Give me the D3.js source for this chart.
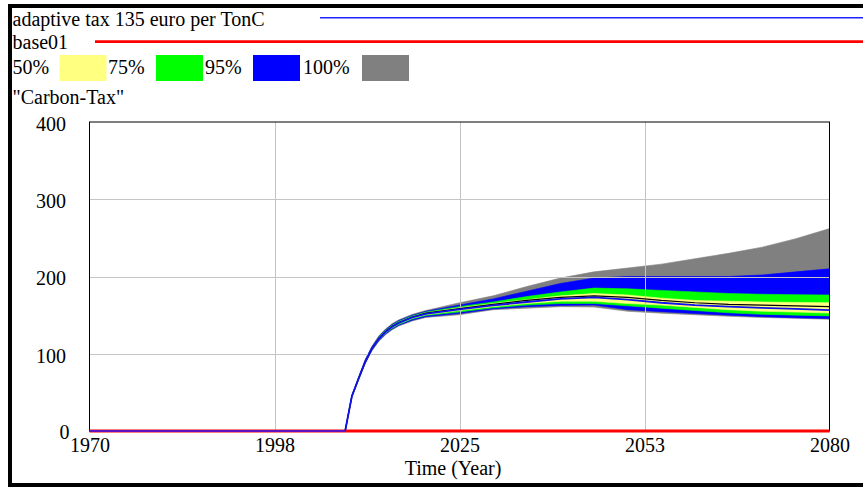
<!DOCTYPE html>
<html><head><meta charset="utf-8">
<script src="https://cdn.jsdelivr.net/npm/d3@7"></script>
<style>
html,body{margin:0;padding:0;background:#fff;}
</style></head><body>
<svg id="chart" width="863" height="487" font-family="'Liberation Serif','Times New Roman',serif" font-size="20"></svg>
<script>
// ---- data ----
const years      = [1970,2008,2009,2010,2011,2012,2013,2014,2015,2016,2018,2020,2025,2030,2035,2040,2045,2050,2055,2060,2065,2070,2075,2080];
const grayTop    = [0,0,46,70,93,110,123,132,139,144,151,156,166,175,187,198,206,211,216,223,230,238,249,262];
const blueTop    = [0,0,46,69,92,109,122,131,138,143,150,155,163,171,181,191,198,200,200,200,200,202,206,210];
const greenTop   = [0,0,45.5,69,91,108,121,130,137,142,149,154,161,167,174,180,185,184,182,180,178,177,176.5,176];
const yellowTop  = [0,0,45,68,90.5,107.5,120,129,136,141,148,153,159.5,165,170,175,178,176,172,169,168,167,166.5,166];
const blackLine  = [0,0,45,68,90,107,119.5,128.5,135.5,140.5,147.5,152.5,158.5,164,169,173,175,173,169,166,164,163,162,161];
const adaptive   = [0,0,45,68,90,107,119,128,135,140,147,151.5,157.5,162.5,167,171,173,170,166,163,161,159.5,158,156.5];
const yellowBot  = [0,0,44.5,67.5,89.5,106.5,118.5,127,134,139,146,150.5,156,161,165,168,168,165,163,160,157,155,154,152.7];
const greenBot   = [0,0,44,67,89,106,118,126.5,133,138,145,149.5,154,159.5,163,165,165,162,159,156,153,151,150,149];
const blueBot    = [0,0,44,66.5,88,105,117,125.5,132,137,143.5,148,152,158,161,162.5,163,157,154.5,152,150,148,146.5,145.5];
const grayBot    = [0,0,44,66,87.5,104,116,124.5,131,136,142.5,147,150.5,157,159,161,160.5,155,152.5,150.5,148.5,147,146,144.6];
const base01Years  = [1970,2080];
const base01Values = [0,0];
const xTicks      = [1970,1997.5,2025,2052.5,2080];
const xTickLabels = ["1970","1998","2025","2053","2080"];
const yTicks      = [0,100,200,300,400];
const legendRuns  = ["adaptive tax 135 euro per TonC","base01"];
const bandLabels  = ["50%","75%","95%","100%"];
const bandColors  = ["#ffff80","#00ff00","#0000ff","#808080"];
const varName     = "\"Carbon-Tax\"";
const xTitle      = "Time (Year)";

// ---- layout ----
const svg = d3.select("#chart");
const FF = "'Liberation Serif','Times New Roman',serif";
const L = 89.5, R = 829.5, T = 122, B = 431;
const x = d3.scaleLinear().domain([1970,2080]).range([L,R]);
const y = d3.scaleLinear().domain([0,400]).range([B,T]);

// outer frame
svg.append("rect").attr("x",8).attr("y",4).attr("width",4).attr("height",483).attr("fill","#000");
svg.append("rect").attr("x",8).attr("y",4).attr("width",855).attr("height",4).attr("fill","#000");
svg.append("rect").attr("x",8).attr("y",483).attr("width",855).attr("height",4).attr("fill","#000");

// legend
svg.append("text").attr("x",12.5).attr("y",26).text(legendRuns[0]);
svg.append("line").attr("x1",320).attr("x2",863).attr("y1",17.7).attr("y2",17.7).attr("stroke","#2020ff").attr("stroke-width",1.6);
svg.append("text").attr("x",12.5).attr("y",49).text(legendRuns[1]);
svg.append("line").attr("x1",95).attr("x2",863).attr("y1",41.7).attr("y2",41.7).attr("stroke","#ff0000").attr("stroke-width",2.8);
const labX = [12.5,108,205,303], swX = [59.5,156,253,362];
bandLabels.forEach((t,i)=>{
  svg.append("text").attr("x",labX[i]).attr("y",74).text(t);
  svg.append("rect").attr("x",swX[i]).attr("y",55).attr("width",47).attr("height",26).attr("fill",bandColors[i]);
});
svg.append("text").attr("x",12.5).attr("y",104).text(varName);

// bands
const idx = d3.range(years.length);
function band(top, bot, color){
  const a = d3.area().x(i=>x(years[i])).y0(i=>y(bot[i])).y1(i=>y(top[i]));
  svg.append("path").datum(idx).attr("d",a).attr("fill",color).attr("stroke",color).attr("stroke-width",0.6);
}
band(grayTop, grayBot, bandColors[3]);
band(blueTop, blueBot, bandColors[2]);
band(greenTop, greenBot, bandColors[1]);
band(yellowTop, yellowBot, bandColors[0]);

// grid
const g = svg.append("g");
xTicks.slice(1,-1).forEach(v=>g.append("line").attr("x1",Math.round(x(v))+0.5).attr("x2",Math.round(x(v))+0.5).attr("y1",T).attr("y2",B).attr("stroke","#c4c4c4").attr("stroke-width",1));
yTicks.slice(1,-1).forEach(v=>g.append("line").attr("x1",L).attr("x2",R).attr("y1",Math.round(y(v))+0.5).attr("y2",Math.round(y(v))+0.5).attr("stroke","#c4c4c4").attr("stroke-width",1));

// plot frame
svg.append("rect").attr("x",L).attr("y",T).attr("width",R-L).attr("height",B-T).attr("fill","none").attr("stroke","#000").attr("stroke-width",1);

// lines
const ln = arr => d3.line().x(i=>x(years[i])).y(i=>y(arr[i]));
svg.append("path").datum(idx).attr("d",ln(blackLine)).attr("fill","none").attr("stroke","#000").attr("stroke-width",1.2);
svg.append("path").datum([0,1]).attr("d",d3.line().x(i=>x(base01Years[i])).y(i=>y(base01Values[i]))).attr("fill","none").attr("stroke","#ff0000").attr("stroke-width",3);
svg.append("path").datum(idx.filter(i=>years[i]>=2008)).attr("d",ln(adaptive)).attr("fill","none").attr("stroke","#1010ee").attr("stroke-width",1.8);
svg.append("path").datum(idx.filter(i=>years[i]<=2008)).attr("d",ln(adaptive)).attr("fill","none").attr("stroke","#6010c0").attr("stroke-width",2);

// axes labels
const xa = d3.axisBottom(x).tickValues(xTicks).tickSize(0).tickPadding(7).tickFormat((d,i)=>xTickLabels[i]);
const xg = svg.append("g").attr("transform",`translate(0,${B})`).call(xa).attr("font-family",FF).attr("font-size",20);
xg.select(".domain").remove();
xg.selectAll("text").attr("dy","0.71em").attr("fill","#000");
const ya = d3.axisLeft(y).tickValues(yTicks).tickSize(0).tickPadding(23.5).tickFormat(d3.format("d"));
const yg = svg.append("g").attr("transform",`translate(${L},0)`).call(ya).attr("font-family",FF).attr("font-size",20);
yg.select(".domain").remove();
yg.selectAll("text").attr("dy","0.42em").attr("fill","#000");
yg.selectAll(".tick").filter(d=>d===0).select("text").attr("x",-20).attr("dy","0.38em");
svg.append("text").attr("x",453).attr("y",475).attr("text-anchor","middle").text(xTitle);
</script>
</body></html>
